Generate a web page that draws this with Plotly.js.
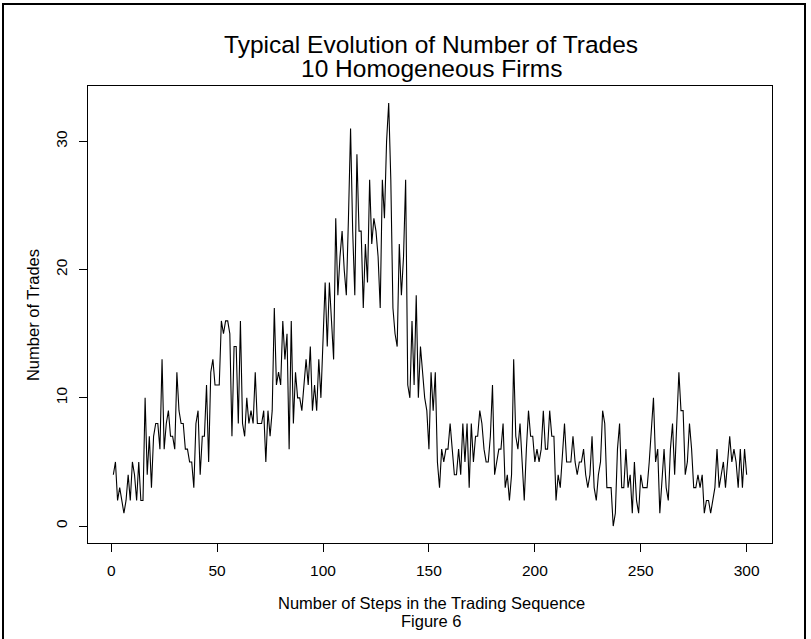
<!DOCTYPE html>
<html>
<head>
<meta charset="utf-8">
<script src="https://cdn.plot.ly/plotly-3.0.1.min.js"></script>
<style>
  html, body { margin: 0; padding: 0; background: #ffffff; }
  #chart { width: 811px; height: 639px; }
</style>
</head>
<body>
<div id="chart"></div>
<script>
// ---- Data ----
const titleLine1 = "Typical Evolution of Number of Trades";
const titleLine2 = "10 Homogeneous Firms";
const xAxisTitle = "Number of Steps in the Trading Sequence";
const figureLabel = "Figure 6";
const yAxisTitle = "Number of Trades";

const xTickValues = [0, 50, 100, 150, 200, 250, 300];
const yTickValues = [0, 10, 20, 30];

// Number of trades at each step 1..300
const trades = [
  4,5,2,3,2,1,2,4,2,5,
  4,2,5,2,2,10,4,7,3,7,
  8,8,6,13,6,8,9,7,7,6,
  12,9,8,8,6,6,5,5,3,8,
  9,4,7,7,11,5,12,13,11,11,
  11,16,15,16,16,15,7,14,14,8,
  16,8,7,10,8,9,8,12,8,8,
  8,9,5,9,7,9,17,11,12,11,
  16,13,15,6,16,8,12,10,10,9,
  11,13,11,14,9,11,9,13,10,14,
  19,14,19,16,13,24,18,21,23,20,
  18,24,31,23,18,29,23,23,17,22,
  19,27,22,24,23,21,17,27,24,30,
  33,27,17,15,14,22,18,21,27,11,
  10,16,11,18,10,14,12,10,9,6,
  12,9,12,5,3,6,5,6,6,8,
  6,4,4,6,4,8,5,8,3,8,
  5,7,7,9,8,6,5,5,7,11,
  4,5,6,6,8,3,4,2,4,13,
  7,6,8,5,2,6,9,7,7,5,
  6,5,6,9,6,6,9,7,7,2,
  4,3,6,8,5,5,5,7,5,4,
  5,5,6,4,3,4,7,3,2,4,
  5,9,8,3,3,3,0,1,6,8,
  3,3,6,3,4,1,5,2,1,4,
  3,3,3,5,8,10,5,6,1,4,
  6,3,2,6,8,4,8,12,9,9,
  4,5,8,6,3,3,4,3,4,1,
  2,2,1,2,3,6,3,4,5,3,
  5,7,5,6,5,3,6,3,6,4
];
const steps = trades.map((_, i) => i + 1);

// ---- Chart ----
const FONT = "Liberation Sans, Arial, Helvetica, sans-serif";
const TITLE_SIZE = 24.5;
const LABEL_SIZE = 16.5;
const TICK_SIZE = 15.5;

const trace = {
  type: "scatter",
  mode: "lines",
  x: steps,
  y: trades,
  line: { color: "#000000", width: 1.1 },
  hoverinfo: "x+y",
  showlegend: false
};

const layout = {
  width: 811,
  height: 639,
  paper_bgcolor: "#ffffff",
  plot_bgcolor: "#ffffff",
  margin: { l: 88, r: 39, t: 86, b: 96, pad: 0 },
  font: { family: FONT, color: "#000000", size: TICK_SIZE },
  title: {
    text: titleLine1,
    font: { family: FONT, size: TITLE_SIZE, color: "#000000" },
    x: 0.5015,
    xanchor: "center",
    xref: "paper",
    y: 1 - 44 / 639,
    yanchor: "middle",
    yref: "container"
  },
  xaxis: {
    range: [-10.96, 311.96],
    tickvals: xTickValues,
    ticktext: xTickValues.map(String),
    ticks: "outside",
    ticklen: 8,
    tickwidth: 1,
    tickcolor: "#000000",
    ticklabelstandoff: 5,
    showline: true,
    linecolor: "#000000",
    linewidth: 1,
    mirror: true,
    showgrid: false,
    zeroline: false,
    tickfont: { family: FONT, size: TICK_SIZE, color: "#000000" }
  },
  yaxis: {
    range: [-1.32, 34.32],
    tickvals: yTickValues,
    ticktext: yTickValues.map(String),
    tickangle: -90,
    ticks: "outside",
    ticklen: 8,
    tickwidth: 1,
    tickcolor: "#000000",
    ticklabelstandoff: 6,
    showline: true,
    linecolor: "#000000",
    linewidth: 1,
    mirror: true,
    showgrid: false,
    zeroline: false,
    tickfont: { family: FONT, size: TICK_SIZE, color: "#000000" }
  },
  annotations: [
    {
      text: titleLine2,
      xref: "paper", yref: "paper",
      x: 0.5015, y: (543.2 - 68) / 457.6,
      xanchor: "center", yanchor: "middle",
      showarrow: false,
      font: { family: FONT, size: TITLE_SIZE, color: "#000000" }
    },
    {
      text: xAxisTitle,
      xref: "paper", yref: "paper",
      x: 0.5015, y: (543.2 - 603) / 457.6,
      xanchor: "center", yanchor: "middle",
      showarrow: false,
      font: { family: FONT, size: LABEL_SIZE, color: "#000000" }
    },
    {
      text: figureLabel,
      xref: "paper", yref: "paper",
      x: 0.5015, y: (543.2 - 621) / 457.6,
      xanchor: "center", yanchor: "middle",
      showarrow: false,
      font: { family: FONT, size: LABEL_SIZE, color: "#000000" }
    },
    {
      text: yAxisTitle,
      xref: "paper", yref: "paper",
      x: (33.6 - 88.5) / 684, y: 0.499,
      xanchor: "center", yanchor: "middle",
      textangle: -90,
      showarrow: false,
      font: { family: FONT, size: LABEL_SIZE, color: "#000000" }
    }
  ],
  shapes: [
    {
      type: "rect",
      xref: "paper", yref: "paper",
      x0: (3.5 - 88.5) / 684, x1: (805.5 - 88.5) / 684,
      y0: (543.2 - 660) / 457.6, y1: (543.2 - 3.5) / 457.6,
      line: { color: "#000000", width: 2 },
      fillcolor: "rgba(0,0,0,0)",
      layer: "above"
    }
  ]
};

Plotly.newPlot("chart", [trace], layout, { displayModeBar: false, staticPlot: true });
</script>
</body>
</html>
